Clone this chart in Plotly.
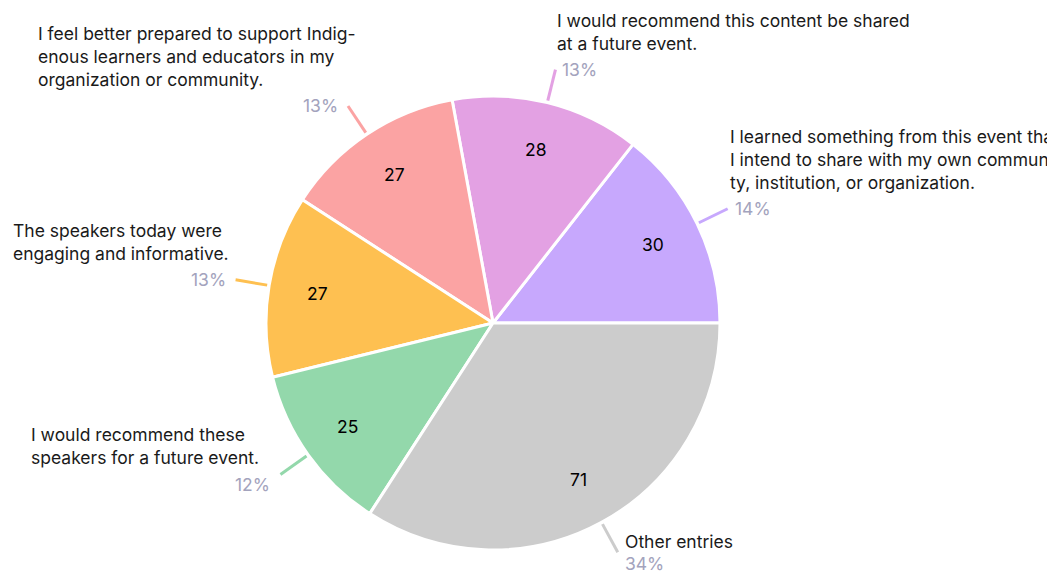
import math
import plotly.graph_objects as go

labels = [
    "I learned something from this event that<br>I intend to share with my own communi-<br>ty, institution, or organization.",
    "I would recommend this content be shared<br>at a future event.",
    "I feel better prepared to support Indig-<br>enous learners and educators in my<br>organization or community.",
    "The speakers today were<br>engaging and informative.",
    "I would recommend these<br>speakers for a future event.",
    "Other entries",
]
values = [30, 28, 27, 27, 25, 71]
colors = ["#c7a8fd", "#e3a1e3", "#fba3a3", "#fec051", "#93d8ab", "#cccccc"]

W, H = 1055, 575
OFF = 8  # page body margin
CX, CY, R = 493 - OFF, 323 - OFF, 227
FONT = "Inter"
FS = 17.5

total = sum(values)
first_share = values[0] / total * 360

fig = go.Figure(go.Pie(
    labels=labels, values=values, sort=False,
    direction="counterclockwise", rotation=90 - first_share,
    marker=dict(colors=colors, line=dict(color="white", width=3)),
    textinfo="none",
    showlegend=False, hoverinfo="label+value+percent",
    domain=dict(x=[(CX - R) / W, (CX + R) / W], y=[1 - (CY + R) / H, 1 - (CY - R) / H]),
))

def px(x, y):
    return x / W, 1 - y / H

shapes, annotations = [], []
cum = 0
for lab, v, c in zip(labels, values, colors):
    mid = math.radians((cum + v / 2) / total * 360)
    cum += v
    ca, sa = math.cos(mid), math.sin(mid)
    # value inside slice
    vx, vy = px(CX + 0.785 * R * ca, CY - 0.785 * R * sa)
    annotations.append(dict(x=vx, y=vy, xref="paper", yref="paper", text=str(v), showarrow=False,
                            xanchor="center", yanchor="middle",
                            font=dict(family=FONT, size=FS, color="black")))
    # leader line
    x0, y0 = CX + (R + 2) * ca, CY - (R + 2) * sa
    x1, y1 = CX + (R + 34) * ca, CY - (R + 34) * sa
    a0, b0 = px(x0, y0)
    a1, b1 = px(x1, y1)
    shapes.append(dict(type="line", xref="paper", yref="paper", x0=a0, y0=b0, x1=a1, y1=b1,
                       line=dict(color=c, width=3)))
    pct = f"{round(v / total * 100)}%"
    right = ca >= 0
    tx = x1 + 5 if right else x1 - 8
    anchor = "left" if right else "right"
    if sa < -0.6:
        ny, py_ = y1 - 11, y1 + 11
        nx = tx
    else:
        py_ = y1 + (10 if sa < 0 else 0)
        ny = py_ - 14
        nx = tx - 5 if right else tx + 20 * sa
    ax, ay = px(tx, py_)
    annotations.append(dict(x=ax, y=ay, xref="paper", yref="paper", text=pct, showarrow=False,
                            xanchor=anchor, yanchor="middle",
                            font=dict(family=FONT, size=FS, color="#a3a3bd")))
    nxp, nyp = px(nx, ny)
    annotations.append(dict(x=nxp, y=nyp, xref="paper", yref="paper", text=lab, showarrow=False,
                            xanchor=anchor, yanchor="bottom" if sa >= -0.6 else "middle", align="left",
                            font=dict(family=FONT, size=FS, color="#1a1a1a")))

fig.update_layout(
    width=W, height=H, margin=dict(l=0, r=0, t=0, b=0),
    paper_bgcolor="white", plot_bgcolor="white",
    shapes=shapes, annotations=annotations,
)
fig.write_html("out.html")
